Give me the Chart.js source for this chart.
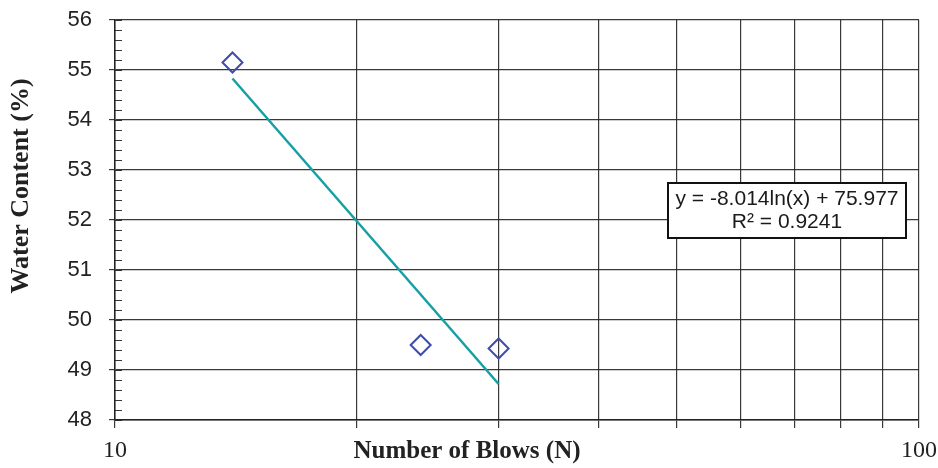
<!DOCTYPE html>
<html>
<head>
<meta charset="utf-8">
<script src="https://cdn.jsdelivr.net/npm/chart.js@4.4.1/dist/chart.umd.min.js"></script>
<style>
  html, body { margin: 0; padding: 0; background: #fff; }
</style>
</head>
<body>
<canvas id="myChart" width="938" height="468"></canvas>
<script>
// measured points
const blows = [14, 24, 30];
const waterContent = [55.15, 49.5, 49.43];

// log trendline end points
const trendBlows = [14, 30];
const trendWater = [54.83, 48.72];

// axes
const xTickValues = [10, 20, 30, 40, 50, 60, 70, 80, 90, 100];
const xLabelValues = [10, 100];
const yTickValues = [48, 49, 50, 51, 52, 53, 54, 55, 56];

const xTitle = 'Number of Blows (N)';
const yTitle = 'Water Content (%)';
const equationLines = ['y = -8.014ln(x) + 75.977', 'R\u00B2 = 0.9241'];

const gridColor = 'rgba(35, 35, 35, 0.9)';

const extras = {
  id: 'extras',
  afterDraw(chart) {
    const {ctx, chartArea: {left, right, top, bottom}, scales: {x, y}} = chart;
    ctx.save();

    // small minor ticks inside the plot on the y axis
    ctx.strokeStyle = gridColor;
    ctx.lineWidth = 1;
    for (let i = 0; i <= 40; i++) {
      const py = Math.round(y.getPixelForValue(yTickValues[0] + i * 0.2)) + 0.5;
      ctx.beginPath();
      ctx.moveTo(left, py);
      ctx.lineTo(left + 7, py);
      ctx.stroke();
    }

    ctx.fillStyle = '#222';
    ctx.textAlign = 'center';
    ctx.textBaseline = 'middle';

    // x axis title sits on the same row as the tick labels
    ctx.font = 'bold 25px "Liberation Serif"';
    ctx.fillText(xTitle, 467, 452);

    // y axis title, moved up like in the original
    ctx.save();
    ctx.translate(21, 186);
    ctx.rotate(-Math.PI / 2);
    ctx.font = 'bold 26px "Liberation Serif"';
    ctx.fillText(yTitle, 0, 0);
    ctx.restore();

    // equation box
    ctx.font = '21px "Liberation Sans"';
    const w = 238, h = 55;
    const bx = right - 13 - w, by = 183;
    ctx.fillStyle = '#fff';
    ctx.fillRect(bx, by, w, h);
    ctx.strokeStyle = '#111';
    ctx.lineWidth = 2;
    ctx.strokeRect(bx, by, w, h);
    ctx.fillStyle = '#1a1a1a';
    ctx.fillText(equationLines[0], bx + w / 2, by + 16);
    ctx.fillText(equationLines[1], bx + w / 2, by + 39);
    ctx.restore();
  }
};

const data = {
  datasets: [
    {
      label: 'Water Content',
      data: blows.map((b, i) => ({x: b, y: waterContent[i]})),
      showLine: false,
      pointStyle: 'rectRot',
      pointRadius: 10,
      pointBorderWidth: 2,
      pointBorderColor: '#3f4cae',
      pointBackgroundColor: 'rgba(255,255,255,0)',
      order: 1
    },
    {
      label: 'Log trend',
      data: trendBlows.map((b, i) => ({x: b, y: trendWater[i]})),
      showLine: true,
      borderColor: '#16a0a4',
      borderWidth: 2.5,
      pointRadius: 0,
      order: 2
    }
  ]
};

const config = {
  type: 'scatter',
  data,
  options: {
    responsive: false,
    animation: false,
    layout: { padding: { left: 0, right: 19, top: 20, bottom: 0 } },
    plugins: {
      legend: { display: false },
      tooltip: { enabled: false }
    },
    scales: {
      x: {
        type: 'logarithmic',
        min: 10,
        max: 100,
        afterBuildTicks: (scale) => {
          scale.ticks = xTickValues.map(v => ({value: v}));
        },
        afterFit: (scale) => {
          scale.height = 48;
          scale.paddingLeft = 0;
          scale.paddingRight = 0;
        },
        ticks: {
          autoSkip: false,
          maxRotation: 0,
          padding: 8,
          color: '#222',
          font: { family: '"Liberation Serif"', size: 24 },
          callback: (v) => xLabelValues.includes(v) ? String(v) : ''
        },
        grid: {
          color: gridColor,
          lineWidth: 1.2,
          tickLength: 8,
          tickColor: gridColor
        },
        border: { color: '#222', width: 1.5 }
      },
      y: {
        min: 48,
        max: 56,
        afterBuildTicks: (scale) => {
          scale.ticks = yTickValues.map(v => ({value: v}));
        },
        afterFit: (scale) => {
          scale.width = 115;
          scale.paddingTop = 0;
          scale.paddingBottom = 0;
        },
        ticks: {
          padding: 17,
          color: '#222',
          font: { family: '"Liberation Sans"', size: 22 }
        },
        grid: {
          color: gridColor,
          lineWidth: 1.2,
          tickLength: 6,
          tickColor: gridColor
        },
        border: { color: '#222', width: 1.5 }
      }
    }
  },
  plugins: [extras]
};

const myChart = new Chart(document.getElementById('myChart'), config);
</script>
</body>
</html>
